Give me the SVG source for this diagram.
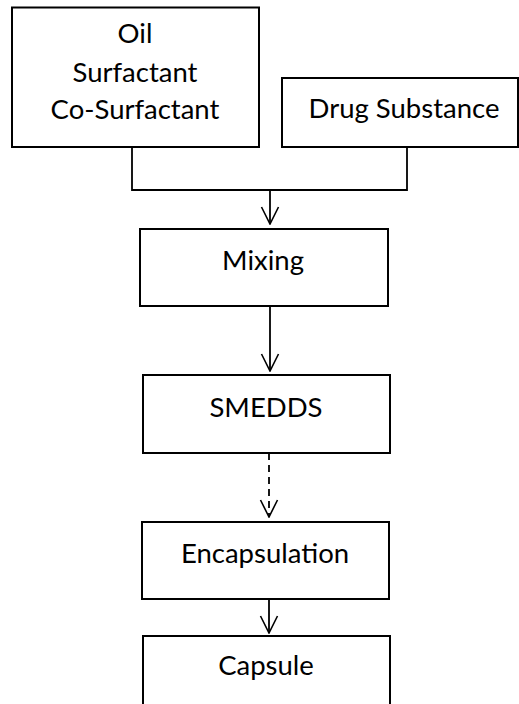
<svg xmlns="http://www.w3.org/2000/svg" width="519" height="704" viewBox="0 0 519 704">
  <defs>
    <marker id="vhead" viewBox="0 0 20 20" refX="19" refY="10" markerWidth="20" markerHeight="20" markerUnits="userSpaceOnUse" orient="auto">
      <path d="M2 1.5 L19 10 L2 18.5" fill="none" stroke="#000" stroke-width="1.6"/>
    </marker>
    <style>
      .box { fill: #fff; stroke: #000; stroke-width: 2; }
      .lbl { font-family: "Lato", "Open Sans", "Liberation Sans", sans-serif; font-size: 27.5px; fill: #000; text-anchor: middle; }
      .wire { fill: none; stroke: #000; stroke-width: 1.8; }
      .dash { stroke-dasharray: 7 5; }
    </style>
  </defs>

  <g id="ingredients">
    <rect class="box" x="12" y="7.5" width="247" height="139.5"/>
    <text class="lbl" x="135" y="43">Oil</text>
    <text class="lbl" x="135" y="82">Surfactant</text>
    <text class="lbl" x="135" y="119">Co-Surfactant</text>
  </g>

  <g id="drug-substance">
    <rect class="box" x="282" y="78" width="236" height="69"/>
    <text class="lbl" x="404" y="118">Drug Substance</text>
  </g>

  <g id="mixing">
    <rect class="box" x="140" y="229" width="248" height="77"/>
    <text class="lbl" x="263" y="270">Mixing</text>
  </g>

  <g id="smedds">
    <rect class="box" x="143" y="375" width="247" height="78"/>
    <text class="lbl" x="266" y="417">SMEDDS</text>
  </g>

  <g id="encapsulation">
    <rect class="box" x="142" y="522" width="247" height="77"/>
    <text class="lbl" x="265" y="563">Encapsulation</text>
  </g>

  <g id="capsule">
    <rect class="box" x="143" y="636" width="247" height="80"/>
    <text class="lbl" x="266" y="675">Capsule</text>
  </g>

  <g id="connectors">
    <path class="wire" d="M132 147 V190 H407 V147"/>
    <path class="wire" d="M270 190 V224" marker-end="url(#vhead)"/>
    <path class="wire" d="M270 306 V371" marker-end="url(#vhead)"/>
    <path class="wire dash" d="M269 453 V517" marker-end="url(#vhead)"/>
    <path class="wire" d="M269 599 V633" marker-end="url(#vhead)"/>
  </g>
</svg>
